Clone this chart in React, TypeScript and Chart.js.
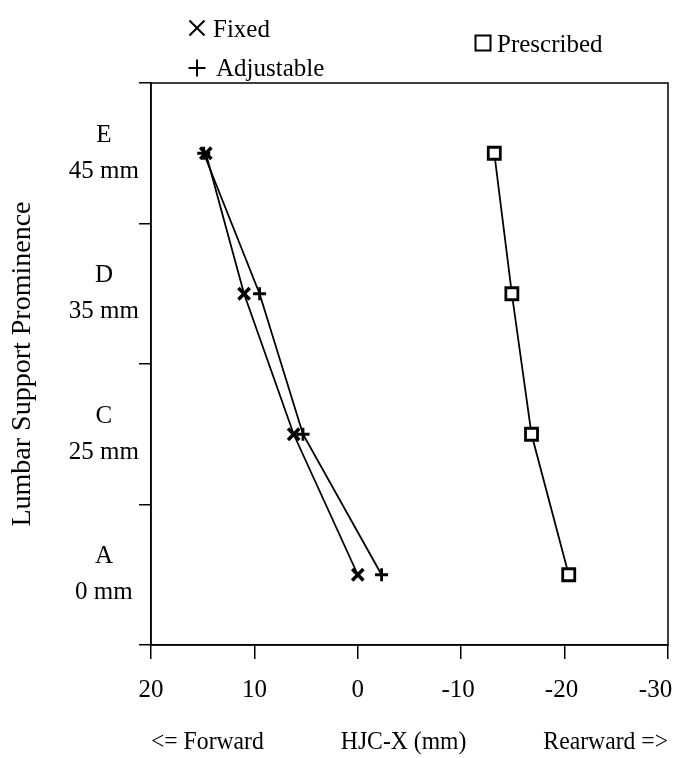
import React, { useEffect, useRef } from 'react';
import { Chart, registerables } from 'chart.js';

Chart.register(...registerables);

const categories = ['E', 'D', 'C', 'A'];
const prominence = ['45 mm', '35 mm', '25 mm', '0 mm'];
const fixedX = [14.7, 11.0, 6.2, 0.0];
const adjustableX = [14.9, 9.5, 5.3, -2.3];
const prescribedX = [-13.2, -14.9, -16.8, -20.4];
const xMin = -30;
const xMax = 20;
const xStep = 10;
const legendLabels = ['Fixed', 'Adjustable', 'Prescribed'];
const xTitle = '<= Forward             HJC-X (mm)             Rearward =>';
const yTitle = 'Lumbar Support Prominence';

const SERIF = "'Liberation Serif', 'Times New Roman', serif";

const boxPlugin = {
  id: 'boxPlugin',
  beforeDatasetsDraw(chart: any) {
    const { ctx, chartArea } = chart;
    ctx.save();
    ctx.strokeStyle = '#000';
    ctx.lineWidth = 1.5;
    ctx.strokeRect(chartArea.left, chartArea.top, chartArea.right - chartArea.left, chartArea.bottom - chartArea.top);
    ctx.restore();
  },
};

const legendPlugin = {
  id: 'customLegend',
  afterDraw(chart: any) {
    const { ctx } = chart;
    ctx.save();
    ctx.strokeStyle = '#000';
    ctx.fillStyle = '#000';
    ctx.lineWidth = 2;
    const fx = 197, fy = 28, fr = 7.5;
    ctx.beginPath();
    ctx.moveTo(fx - fr, fy - fr);
    ctx.lineTo(fx + fr, fy + fr);
    ctx.moveTo(fx - fr, fy + fr);
    ctx.lineTo(fx + fr, fy - fr);
    ctx.stroke();
    const ax = 197, ay = 68, ar = 8.5;
    ctx.beginPath();
    ctx.moveTo(ax - ar, ay);
    ctx.lineTo(ax + ar, ay);
    ctx.moveTo(ax, ay - ar);
    ctx.lineTo(ax, ay + ar);
    ctx.stroke();
    ctx.lineWidth = 2;
    ctx.strokeRect(475.5, 35.5, 15, 15);

    ctx.font = `25px ${SERIF}`;
    ctx.textBaseline = 'alphabetic';
    ctx.textAlign = 'left';
    ctx.fillText(legendLabels[0], 213, 37);
    ctx.fillText(legendLabels[1], 216, 76);
    ctx.fillText(legendLabels[2], 497, 52);
    ctx.restore();
  },
};

export default function App() {
  const ref = useRef<HTMLCanvasElement | null>(null);

  useEffect(() => {
    if (!ref.current) return;
    const chart = new Chart(ref.current, {
      type: 'line',
      data: {
        labels: categories.map((c, i) => [c, prominence[i]]),
        datasets: [
          {
            label: legendLabels[0],
            data: fixedX,
            borderColor: '#000',
            borderWidth: 1.8,
            pointStyle: 'crossRot',
            pointRadius: 8,
            pointBorderWidth: 3.5,
            pointBorderColor: '#000',
            pointBackgroundColor: '#000',
            tension: 0,
            fill: false,
          },
          {
            label: legendLabels[1],
            data: adjustableX,
            borderColor: '#000',
            borderWidth: 1.8,
            pointStyle: 'cross',
            pointRadius: 6.5,
            pointBorderWidth: 2.8,
            pointBorderColor: '#000',
            pointBackgroundColor: '#000',
            tension: 0,
            fill: false,
          },
          {
            label: legendLabels[2],
            data: prescribedX,
            borderColor: '#000',
            borderWidth: 1.8,
            pointStyle: 'rect',
            pointRadius: 8.5,
            pointBorderWidth: 2.8,
            pointBorderColor: '#000',
            pointBackgroundColor: '#fff',
            tension: 0,
            fill: false,
          },
        ],
      },
      options: {
        indexAxis: 'y',
        animation: false,
        responsive: false,
        maintainAspectRatio: false,
        layout: { autoPadding: false, padding: { top: 83, right: 6, left: 0, bottom: 0 } },
        plugins: {
          legend: { display: false },
          tooltip: { enabled: false },
        },
        scales: {
          x: {
            type: 'linear',
            position: 'bottom',
            reverse: true,
            min: xMin,
            max: xMax,
            ticks: {
              stepSize: xStep,
              autoSkip: false,
              maxRotation: 0,
              color: '#000',
              padding: 16,
              font: { family: SERIF, size: 25, lineHeight: 1.2 },
              callback: (v: any) => (v === xMin ? `${v}    ` : v < 0 ? `${v} ` : `${v}`),
            },
            grid: {
              drawOnChartArea: false,
              tickLength: 14,
              color: '#000',
              lineWidth: 1.5,
            },
            border: { color: '#000', width: 1.5 },
            title: {
              display: true,
              text: xTitle,
              color: '#000',
              font: { family: SERIF, size: 25, lineHeight: 1.2 },
              padding: { top: 0, bottom: 1 },
            },
            afterFit(scale: any) {
              scale.height = 113;
              scale.paddingLeft = 0;
              scale.paddingRight = 0;
            },
          },
          y: {
            type: 'category',
            offset: true,
            ticks: {
              color: '#000',
              padding: 0,
              crossAlign: 'center',
              font: { family: SERIF, size: 25, lineHeight: 1.45 },
            },
            grid: {
              offset: true,
              drawOnChartArea: false,
              tickLength: 12,
              lineWidth: 1.5,
              color: (ctx: any) => (ctx.index === categories.length ? 'rgba(0,0,0,0)' : '#000'),
            },
            border: { color: '#000', width: 1.5 },
            title: {
              display: true,
              text: yTitle,
              color: '#000',
              font: { family: SERIF, size: 28, lineHeight: 1.2 },
              padding: { top: 6, bottom: 0 },
            },
            afterFit(scale: any) {
              scale.width = 151;
              scale.paddingTop = 0;
              scale.paddingBottom = 0;
            },
          },
        },
      } as any,
      plugins: [boxPlugin, legendPlugin],
    });
    return () => chart.destroy();
  }, []);

  return (
    <div style={{ position: 'absolute', left: 0, top: 0, width: 674, height: 758, background: '#fff', overflow: 'hidden' }}>
      <canvas ref={ref} width={674} height={758} style={{ display: 'block' }} />
    </div>
  );
}
